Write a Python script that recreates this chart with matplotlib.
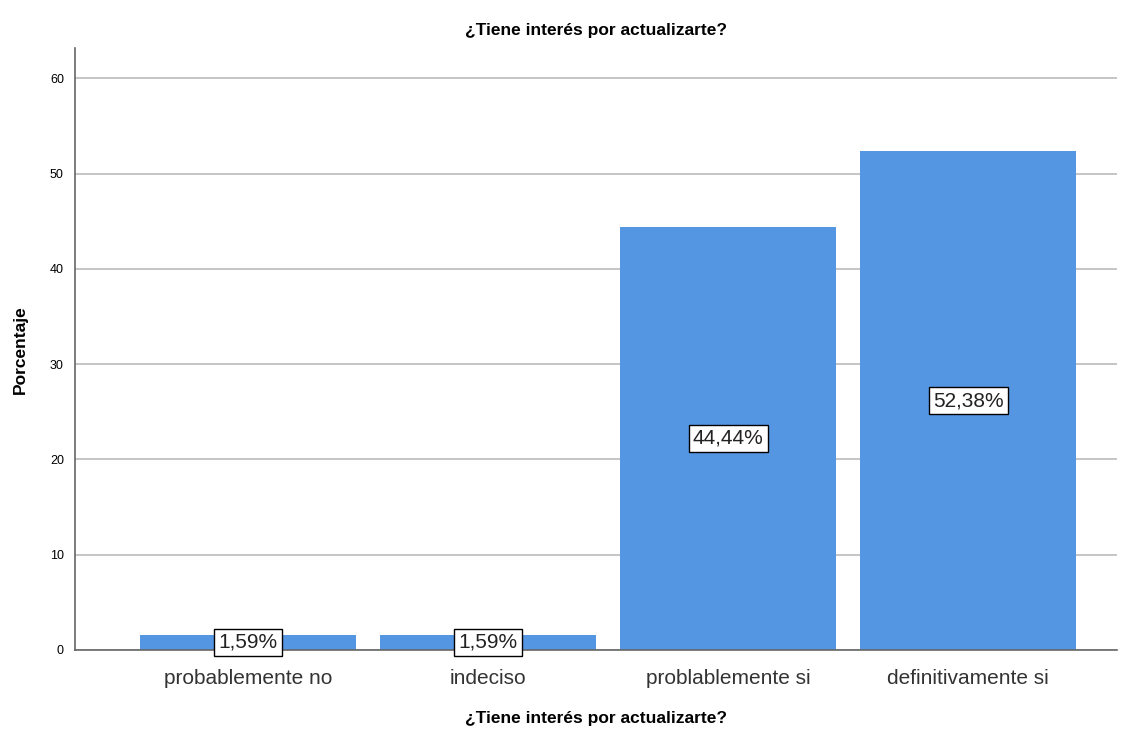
import matplotlib
matplotlib.use("Agg")
import matplotlib.pyplot as plt

categories = ["probablemente no", "indeciso", "problablemente si", "definitivamente si"]
percentages = [1.59, 1.59, 44.44, 52.38]
labels = ["1,59%", "1,59%", "44,44%", "52,38%"]
title = "¿Tiene interés por actualizarte?"

plt.rcParams['font.family'] = ['Liberation Sans', 'DejaVu Sans']

fig = plt.figure(figsize=(11.32, 7.35), dpi=100)
ax = fig.add_axes([75 / 1132, 85 / 735, (1117 - 75) / 1132, (650 - 48) / 735])

x = range(len(categories))
ax.bar(x, percentages, width=0.9, color="#5596e3", zorder=2)
for i, v in enumerate(percentages):
    ax.text(i, v / 2, labels[i], ha="center", va="center", fontsize=15,
            color="#222222", zorder=3,
            bbox=dict(boxstyle="square,pad=0.2", fc="white", ec="black", lw=1))

ax.set_xlim(-0.72, 3.62)
ax.set_ylim(0, 63.2)
ax.set_yticks([0, 10, 20, 30, 40, 50, 60])
ax.set_xticks(list(x))
ax.set_xticklabels(categories, fontsize=15, color="#333333")
ax.tick_params(axis="x", length=0, pad=14)
ax.tick_params(axis="y", length=0, labelsize=9, pad=8)
ax.yaxis.grid(True, color="#bbbbbb", lw=1.2, zorder=0)
for s in ["top", "right"]:
    ax.spines[s].set_visible(False)
for s in ["left", "bottom"]:
    ax.spines[s].set_color("#666666")
    ax.spines[s].set_linewidth(1.2)

fig.text(0.5 * (75 + 1117) / 1132, 1 - 30 / 735, title, ha="center", va="center",
         fontsize=12.5, fontweight="bold")
fig.text(0.5 * (75 + 1117) / 1132, 1 - 718 / 735, title, ha="center", va="center",
         fontsize=12.5, fontweight="bold")
fig.text(20 / 1132, 1 - 350 / 735, "Porcentaje", ha="center", va="center", rotation=90,
         fontsize=12.5, fontweight="bold")

fig.savefig("out.png", dpi=100)
